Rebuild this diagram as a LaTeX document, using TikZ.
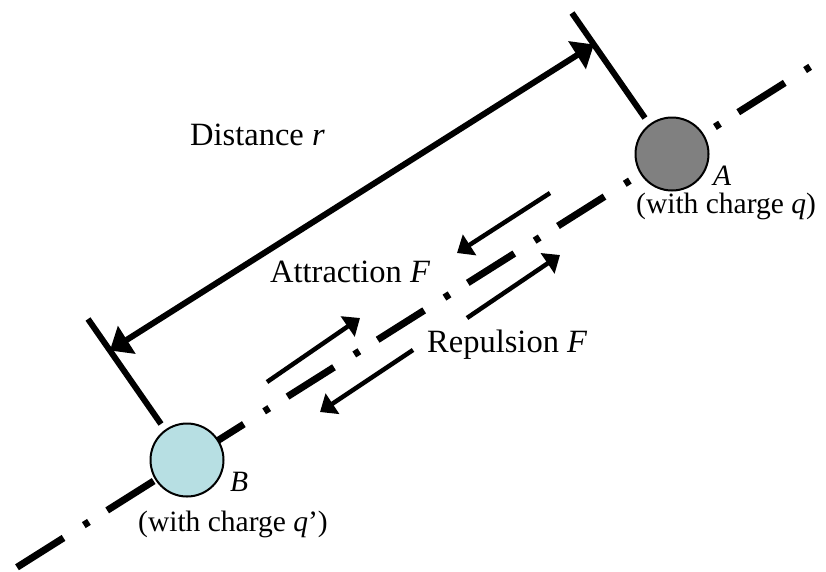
\documentclass[tikz,border=0pt]{standalone}
\usepackage{fontspec}
\setmainfont{Liberation Serif}
\usetikzlibrary{arrows.meta, calc}
\definecolor{cCharge}{RGB}{183,223,227}
\definecolor{cGrey}{RGB}{128,128,128}
\tikzset{
	charge/.style    ={circle, draw=black, line width=2pt, minimum size=73pt, inner sep=0pt},
	axisline/.style  ={line width=7pt, dash pattern=on 55pt off 24pt on 6pt off 21.6pt},
	tickline/.style  ={line width=6pt},
	dimarrow/.style  ={{Triangle[length=20pt, width=32pt]}-{Triangle[length=20pt, width=32pt]}, line width=6pt},
	forcearrow/.style={-{Triangle[length=15pt, width=24pt]}, line width=4.5pt},
	lbl/.style       ={inner sep=0pt, anchor=base west, font=\fontsize{32.5}{38}\selectfont},
	chlbl/.style     ={inner sep=0pt, anchor=base west, font=\fontsize{29.5}{35}\selectfont},
}
\begin{document}
\begin{tikzpicture}[x=1pt, y=-1pt]
	\useasboundingbox (0,0) rectangle (826,571);
	% centres of the two charges
	\coordinate (cB) at (187,460);
	\coordinate (cA) at (672,154);
	% line through both charges
	\draw[axisline] ($(cB)!-0.3505!(cA)$) -- ($(cB)!1.2868!(cA)$);
	% dimension ticks
	\coordinate (tickBlo) at (161,424); \coordinate (tickBhi) at (88,319);
	\coordinate (tickAlo) at (645,118); \coordinate (tickAhi) at (572,13);
	\draw[tickline] (tickBlo) -- (tickBhi);
	\draw[tickline] (tickAlo) -- (tickAhi);
	\coordinate (dimB) at ($(tickBlo)!0.7!(tickBhi)$);
	\coordinate (dimA) at ($(tickAlo)!0.7!(tickAhi)$);
	\draw[dimarrow] (dimB) -- (dimA);
	% forces
	\coordinate (attAs) at (550,193); \coordinate (attAe) at (457,253);
	\coordinate (attBs) at (267,382); \coordinate (attBe) at (360,318);
	\coordinate (repAs) at (467,318); \coordinate (repAe) at (560,255);
	\coordinate (repBs) at (413,350); \coordinate (repBe) at (320,412);
	\draw[forcearrow] (attAs) -- (attAe);
	\draw[forcearrow] (attBs) -- (attBe);
	\draw[forcearrow] (repAs) -- (repAe);
	\draw[forcearrow] (repBs) -- (repBe);
	% charges
	\node[charge, fill=cGrey] (chA) at (cA) {};
	\node[charge, fill=cCharge] (chB) at (cB) {};
	% labels
	\node[chlbl] (labA) at (713,185) {\textit{A}};
	\node[chlbl] (qA) at (636,213) {(with charge \textit{q})};
	\node[chlbl] (labB) at (230,491) {\textit{B}};
	\node[chlbl] (qB) at (138,531) {(with charge \textit{q}’)};
	\node[lbl] (dist) at (190,145) {Distance \textit{r}};
	\node[lbl] (attr) at (270,282) {Attraction \textit{F}};
	\node[lbl] (repu) at (427,352) {Repulsion \textit{F}};
\end{tikzpicture}
\end{document}
